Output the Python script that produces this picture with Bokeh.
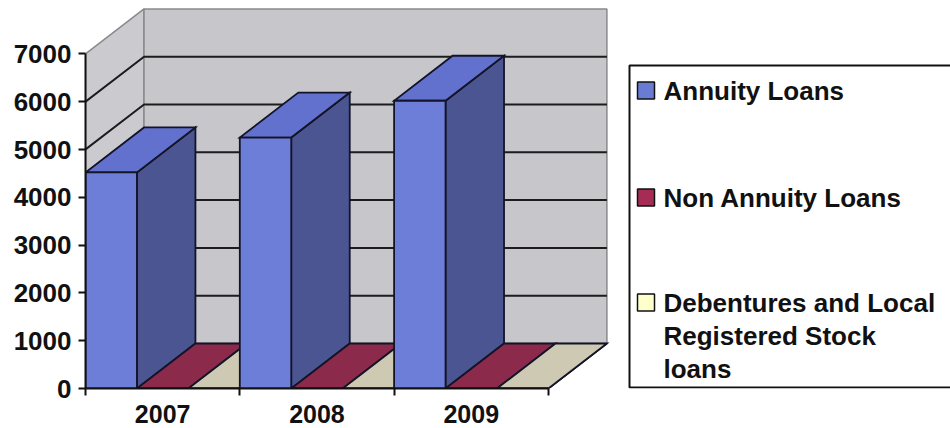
from bokeh.plotting import figure
from bokeh.models import FixedTicker, Range1d, ColumnDataSource
from bokeh.core.properties import value
from bokeh.embed import file_html
from bokeh.resources import INLINE

# ---- data -------------------------------------------------------------
years = ["2007", "2008", "2009"]
annuity_loans = [4520, 5250, 6020]
non_annuity_loans = [0, 0, 0]
debentures_local_stock = [0, 0, 0]
series_labels = [
    ["Annuity Loans"],
    ["Non Annuity Loans"],
    ["Debentures and Local", "Registered Stock", "loans"],
]
y_ticks = [0, 1000, 2000, 3000, 4000, 5000, 6000, 7000]

series_values = [annuity_loans, non_annuity_loans, debentures_local_stock]

# ---- styling ----------------------------------------------------------
# (front, top, side) face colours per series, and legend swatch colour
face_colors = [
    ("#6d7ed8", "#6271cd", "#4b5592"),
    ("#9c2f57", "#8c2a4c", "#6a1f3c"),
    ("#e2dfc4", "#cdc9b2", "#aaa792"),
]
swatch_colors = ["#6a7bd4", "#a42c55", "#ffffcc"]
FONT = "Liberation Sans"
INK = "#111111"

W, H = 950, 428
FRAME_LEFT = 85          # px from left edge of canvas
FRAME_BOTTOM = 388       # px from top edge of canvas
CAT_PX = 154.3           # px per category
PX_PER_1000 = 47.8       # px per 1000 units on the value axis
DEPTH_PX = (58.5, 45.0)  # oblique depth offset (right, up) in px

n_cat = len(years)
y_top = max(y_ticks)
DX = DEPTH_PX[0] / CAT_PX
DY = DEPTH_PX[1] / PX_PER_1000 * 1000

x_end = (W - FRAME_LEFT) / CAT_PX
y_end = FRAME_BOTTOM / PX_PER_1000 * 1000


def sx(px):
    """canvas px (from left) -> x data units"""
    return (px - FRAME_LEFT) / CAT_PX


def sy(py):
    """canvas px (from top) -> y data units"""
    return (FRAME_BOTTOM - py) / PX_PER_1000 * 1000


p = figure(
    width=W, height=H,
    x_range=Range1d(0, x_end), y_range=Range1d(0, y_end),
    output_backend="svg", toolbar_location=None,
    min_border_left=FRAME_LEFT, min_border_right=0,
    min_border_top=0, min_border_bottom=H - FRAME_BOTTOM,
    background_fill_color="white", border_fill_color="white",
    outline_line_color=None,
)
p.xgrid.visible = False
p.ygrid.visible = False

# ---- walls and floor --------------------------------------------------
wall_edge = "#8a8a8a"
walls = ColumnDataSource(dict(
    xs=[[0, 0, DX, DX],
        [DX, n_cat + DX, n_cat + DX, DX],
        [0, n_cat, n_cat + DX, DX]],
    ys=[[0, y_top, y_top + DY, DY],
        [DY, DY, y_top + DY, y_top + DY],
        [0, 0, DY, DY]],
    fill=["#cbcbcf", "#c6c6cb", "#c2c2c6"],
))
p.patches("xs", "ys", source=walls, fill_color="fill",
          line_color=wall_edge, line_width=1.5)

# gridlines across the side wall and back wall
grid_vals = [v for v in y_ticks if 0 < v < y_top]
p.multi_line(
    xs=[[0, DX, n_cat + DX] for _ in grid_vals],
    ys=[[v, v + DY, v + DY] for v in grid_vals],
    line_color="#1c1c1c", line_width=2,
)

# ---- 3-D columns ------------------------------------------------------
n_ser = len(series_values)
bw = 1.0 / n_ser
xs, ys, fills = [], [], []
for c in range(n_cat):
    for s in range(n_ser):
        v = series_values[s][c]
        x0 = c + s * bw
        x1 = x0 + bw
        front, top, side = face_colors[s]
        # side face
        xs.append([x1, x1, x1 + DX, x1 + DX])
        ys.append([0, v, v + DY, DY])
        fills.append(side)
        # top face
        xs.append([x0, x1, x1 + DX, x0 + DX])
        ys.append([v, v, v + DY, v + DY])
        fills.append(top)
        # front face
        xs.append([x0, x1, x1, x0])
        ys.append([0, 0, v, v])
        fills.append(front)

bars = ColumnDataSource(dict(xs=xs, ys=ys, fill=fills))
p.patches("xs", "ys", source=bars, fill_color="fill",
          line_color="#141428", line_width=1.8, line_join="miter")

# ---- axes -------------------------------------------------------------
ya = p.yaxis[0]
ya.ticker = FixedTicker(ticks=y_ticks)
ya.bounds = (0, y_top)
ya.axis_line_width = 2
ya.axis_line_color = INK
ya.major_tick_line_width = 2
ya.major_tick_line_color = INK
ya.major_tick_out = 7
ya.major_tick_in = 0
ya.minor_tick_line_color = None
ya.major_label_text_font = FONT
ya.major_label_text_font_style = "bold"
ya.major_label_text_font_size = "26px"
ya.major_label_text_color = INK
ya.major_label_standoff = 7

xa = p.xaxis[0]
centers = [c + 0.5 for c in range(n_cat)]
xa.ticker = FixedTicker(ticks=centers, minor_ticks=list(range(n_cat + 1)))
xa.major_label_overrides = {c: y for c, y in zip(centers, years)}
xa.bounds = (0, n_cat)
xa.axis_line_width = 2
xa.axis_line_color = INK
xa.major_tick_line_color = None
xa.major_tick_out = 7
xa.major_tick_in = 0
xa.minor_tick_line_color = INK
xa.minor_tick_line_width = 2
xa.minor_tick_out = 7
xa.minor_tick_in = 0
xa.major_label_text_font = FONT
xa.major_label_text_font_style = "bold"
xa.major_label_text_font_size = "25px"
xa.major_label_text_color = INK
xa.major_label_standoff = 9

# ---- legend -----------------------------------------------------------
LEG_LEFT, LEG_TOP, LEG_BOTTOM = 629, 65, 387
p.quad(left=sx(LEG_LEFT), right=sx(W + 20), top=sy(LEG_TOP), bottom=sy(LEG_BOTTOM),
       fill_color="white", line_color=INK, line_width=2)

row_centers = [90, 197, 302]
line_step = 33
sw = 17
for s, labels in enumerate(series_labels):
    cy = row_centers[s]
    p.quad(left=sx(637), right=sx(637 + sw), top=sy(cy - sw / 2), bottom=sy(cy + sw / 2),
           fill_color=swatch_colors[s], line_color=INK, line_width=1.5)
    p.text(x=[sx(663)] * len(labels),
           y=[sy(cy + i * line_step) for i in range(len(labels))],
           text=labels,
           text_font=value(FONT), text_font_style="bold", text_font_size="26px",
           text_color=INK, text_align="left", text_baseline="middle")

open("out.html", "w").write(file_html(p, INLINE))
